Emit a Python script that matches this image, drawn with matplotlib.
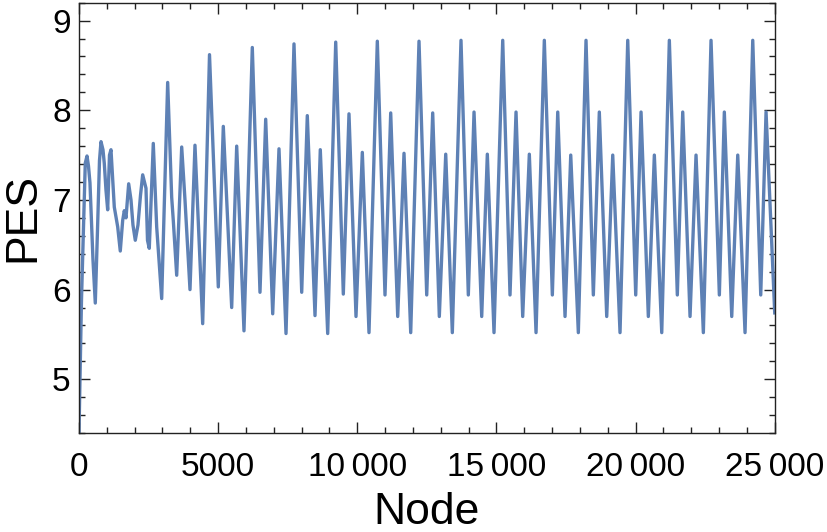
import matplotlib
matplotlib.use('Agg')
import matplotlib.pyplot as plt
from matplotlib.ticker import MultipleLocator, FuncFormatter

# extrema / turning points
node = [0, 90, 226, 288, 341, 395, 503, 586, 665, 737, 791,
        862, 909, 970, 1031, 1096, 1150, 1222, 1269, 1391, 1484,
        1570, 1628, 1689, 1786, 1869, 1940, 2023, 2120, 2210, 2289,
        2408, 2462, 2526, 2670, 2792, 2972, 3187, 3331, 3389, 3511,
        3691, 3809, 3989, 4168, 4445, 4690, 5006, 5186, 5487, 5667,
        5929, 6228, 6504, 6709, 6961, 7187, 7439, 7726, 8003, 8204,
        8481, 8671, 8937, 9225, 9498, 9702, 9954, 10181, 10421, 10720,
        10996, 11201, 11453, 11679, 11920, 12218, 12495, 12710, 12948, 13178,
        13415, 13727, 13990, 14195, 14471, 14673, 14913, 15226, 15488, 15704,
        15944, 16182, 16423, 16721, 17009, 17203, 17465, 17670, 17943, 18219,
        18482, 18697, 18963, 19179, 19441, 19718, 20005, 20196, 20458, 20674,
        20940, 21213, 21500, 21694, 21957, 22172, 22435, 22711, 23010, 23189,
        23455, 23671, 23933, 24210, 24497, 24688, 25000]
pes = [4.40, 5.88, 7.41, 7.49, 7.38, 7.19, 6.33, 5.85, 6.66, 7.44, 7.65,
       7.56, 7.41, 7.11, 6.89, 7.50, 7.56, 7.16, 6.92, 6.70, 6.43,
       6.77, 6.88, 6.80, 7.18, 7.00, 6.72, 6.55, 6.72, 7.05, 7.28,
       7.13, 6.55, 6.46, 7.63, 6.70, 5.90, 8.31, 7.03, 6.77, 6.16,
       7.59, 7.00, 6.00, 7.61, 5.62, 8.62, 6.03, 7.82, 5.80, 7.60,
       5.54, 8.70, 5.97, 7.90, 5.73, 7.57, 5.51, 8.74, 5.97, 7.94,
       5.71, 7.56, 5.51, 8.76, 5.95, 7.96, 5.70, 7.53, 5.52, 8.77,
       5.94, 7.97, 5.70, 7.52, 5.52, 8.77, 5.94, 7.97, 5.70, 7.51,
       5.52, 8.78, 5.94, 7.98, 5.70, 7.51, 5.52, 8.78, 5.94, 7.98,
       5.70, 7.51, 5.52, 8.78, 5.94, 7.98, 5.70, 7.50, 5.52, 8.78,
       5.94, 7.98, 5.70, 7.50, 5.52, 8.78, 5.94, 7.98, 5.70, 7.50,
       5.52, 8.78, 5.94, 7.98, 5.70, 7.50, 5.52, 8.78, 5.94, 7.98,
       5.70, 7.50, 5.52, 8.78, 5.94, 7.98, 5.74]

plt.rcParams['font.family'] = ['Liberation Sans', 'DejaVu Sans']

fig = plt.figure(figsize=(8.27, 5.32), dpi=100)
ax = fig.add_axes([0.0955, 0.186, 0.8413, 0.809])

ax.plot(node, pes, color='#5E81B5', lw=2.4, solid_joinstyle='round')

ax.set_xlim(0, 25000)
ax.set_ylim(4.4, 9.2)

ax.xaxis.set_major_locator(MultipleLocator(5000))
ax.xaxis.set_minor_locator(MultipleLocator(1000))
ax.yaxis.set_major_locator(MultipleLocator(1))
ax.yaxis.set_minor_locator(MultipleLocator(0.2))


def fmt_thousands(v, pos):
    v = int(round(v))
    if v >= 10000:
        return f'{v // 1000}\u2009{v % 1000:03d}'
    return str(v)


ax.xaxis.set_major_formatter(FuncFormatter(fmt_thousands))

ax.tick_params(which='both', direction='in', top=True, right=True,
               color='#222222', width=1.0)
ax.tick_params(which='major', length=8, labelsize=24)
ax.tick_params(axis='x', which='major', pad=14)
ax.tick_params(axis='y', which='major', pad=6)
ax.tick_params(which='minor', length=4.5)

for s in ax.spines.values():
    s.set_color('#222222')
    s.set_linewidth(1.0)

ax.set_xlabel('Node', fontsize=32, labelpad=6)
ax.set_ylabel('PES', fontsize=32, labelpad=6)

fig.savefig('out.png', dpi=100)
